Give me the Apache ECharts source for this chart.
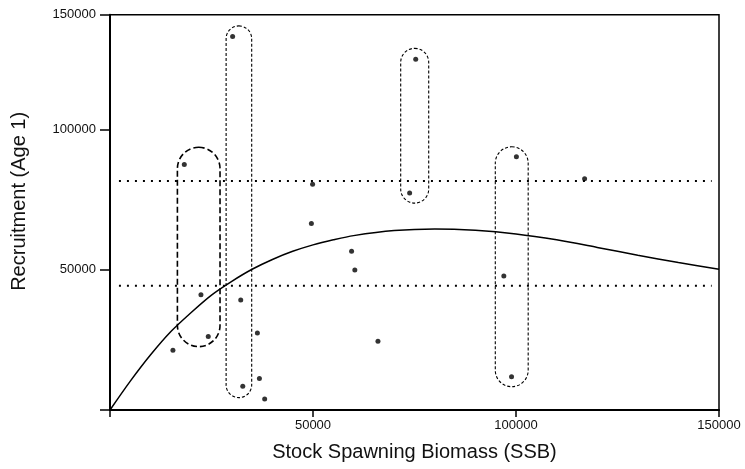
<!DOCTYPE html>
<html>
<head>
<meta charset="utf-8">
<script src="https://cdn.jsdelivr.net/npm/echarts@6/dist/echarts.min.js"></script>
<style>html,body{margin:0;padding:0;background:#fff}#c{width:745px;height:469px}</style>
</head>
<body>
<div id="c"></div>
<script>
// Observed stock–recruitment pairs
const ssb = [18300, 30200, 49900, 49600, 59500, 60300, 22400, 32200, 36300, 24200, 15500, 66000, 36800, 32700, 38100, 75300, 73800, 100100, 116900, 97000, 98900];
const recruits = [87600, 133200, 80500, 66500, 56600, 49900, 41100, 39200, 27500, 26200, 21300, 24500, 11200, 8500, 3900, 125100, 77400, 90300, 82500, 47800, 11900];

// Fitted stock–recruitment curve
const curveSSB = [0, 5000, 10000, 15000, 20000, 25000, 30000, 35000, 40000, 45000, 50000, 55000, 60000, 70000, 80000, 90000, 100000, 110000, 120000, 130000, 140000, 150000];
const curveRec = [0, 10300, 19700, 28000, 34800, 41000, 45900, 50200, 53700, 56600, 58900, 60700, 62200, 64000, 64600, 64100, 62800, 60700, 58000, 55200, 52600, 50200];

// Horizontal dotted reference levels
const refLevels = [81700, 44300];
const refFrom = 2200, refTo = 148200;

// Grouping ovals: [ssbMin, ssbMax, recMin, recMax, style]
const groupSSBMin = [16600, 28600, 71600, 94900];
const groupSSBMax = [27100, 34900, 78500, 103000];
const groupRecMin = [22600, 4400, 73800, 8300];
const groupRecMax = [93700, 137000, 129000, 93900];
const groupStyle = [0, 1, 1, 1];

// Axes
const xTickValues = [0, 50000, 100000, 150000];
const xTickLabels = ['', '50000', '100000', '150000'];
const yTickValues = [0, 50000, 100000, 141000];
const yTickLabels = ['', '50000', '100000', '150000'];

const FONT = "'Liberation Sans', Arial, sans-serif";
const chart = echarts.init(document.getElementById('c'), null, {renderer: 'canvas'});

const groups = groupSSBMin.map((v, i) => [v, groupSSBMax[i], groupRecMin[i], groupRecMax[i], groupStyle[i]]);

const series = [];
refLevels.forEach(lv => {
  series.push({
    type: 'line', data: [[refFrom, lv], [refTo, lv]], symbol: 'none', silent: true,
    lineStyle: {color: '#000', width: 2, type: [2, 6]}, z: 2
  });
});
series.push({
  type: 'line', data: curveSSB.map((s, i) => [s, curveRec[i]]), smooth: 0.3, symbol: 'none',
  lineStyle: {color: '#000', width: 1.5}, z: 3
});
series.push({
  type: 'custom', data: groups, encode: {x: [0, 1], y: [2, 3]}, z: 4,
  renderItem: function (params, api) {
    const p1 = api.coord([api.value(0), api.value(3)]);
    const p2 = api.coord([api.value(1), api.value(2)]);
    const w = p2[0] - p1[0], h = p2[1] - p1[1];
    const st = api.value(4);
    return {
      type: 'rect',
      shape: {x: p1[0], y: p1[1], width: w, height: h, r: w / 2},
      style: {fill: 'none', stroke: '#000', lineWidth: st === 0 ? 1.6 : 1.1, lineDash: st === 0 ? [6, 3] : [3, 2]}
    };
  }
});
series.push({
  type: 'scatter', data: ssb.map((s, i) => [s, recruits[i]]), symbolSize: 5,
  itemStyle: {color: '#000'}, z: 5
});

chart.setOption({
  animation: false,
  backgroundColor: '#fff',
  grid: {left: 110, right: 26, top: 14.7, bottom: 59, show: true, borderColor: '#000', borderWidth: 1.5, containLabel: false},
  xAxis: {
    type: 'value', min: 0, max: 150000, interval: 50000,
    name: 'Stock Spawning Biomass (SSB)', nameLocation: 'middle', nameGap: 32,
    nameTextStyle: {fontFamily: FONT, fontSize: 20, color: '#111'},
    axisLine: {show: true, lineStyle: {color: '#000', width: 2}},
    axisTick: {show: true, length: 7, lineStyle: {color: '#000', width: 1.5}, customValues: xTickValues},
    axisLabel: {
      customValues: xTickValues, margin: 9, fontFamily: FONT, fontSize: 13, color: '#111',
      showMinLabel: true, showMaxLabel: true,
      formatter: v => xTickLabels[xTickValues.indexOf(v)] ?? ''
    },
    splitLine: {show: false}
  },
  yAxis: {
    type: 'value', min: 0, max: 141000,
    name: 'Recruitment (Age 1)', nameLocation: 'middle', nameGap: 81, nameRotate: 90,
    nameTextStyle: {fontFamily: FONT, fontSize: 20, color: '#111', padding: [0, 0, 0, 22]},
    axisLine: {show: true, lineStyle: {color: '#000', width: 2}},
    axisTick: {show: true, length: 10, lineStyle: {color: '#000', width: 1.5}, customValues: yTickValues},
    axisLabel: {
      customValues: yTickValues, margin: 14, fontFamily: FONT, fontSize: 13, color: '#111',
      showMinLabel: true, showMaxLabel: true,
      formatter: v => yTickLabels[yTickValues.indexOf(v)] ?? ''
    },
    splitLine: {show: false}
  },
  series: series
});
</script>
</body>
</html>
